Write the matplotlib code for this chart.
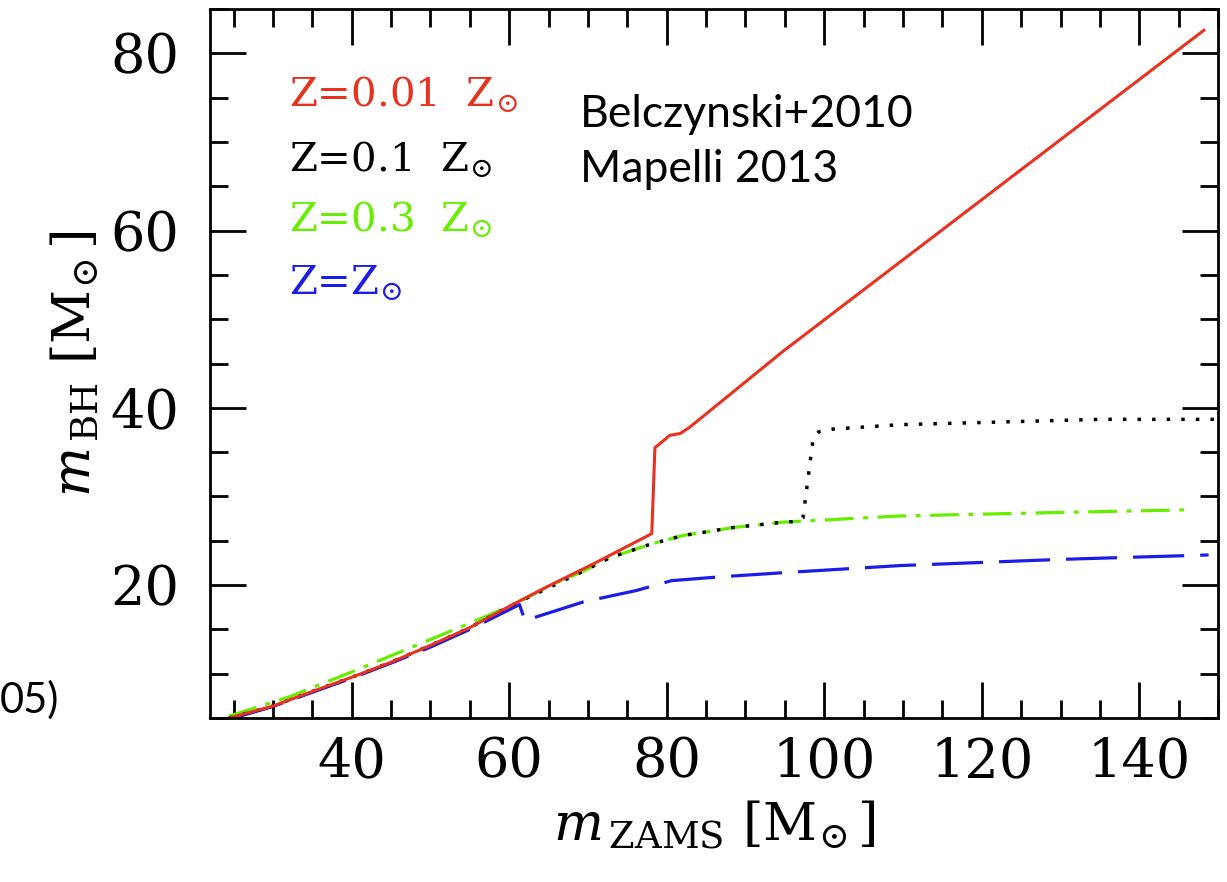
import matplotlib
matplotlib.use('Agg')
import matplotlib.pyplot as plt
from matplotlib.ticker import MultipleLocator

plt.rcParams['font.family'] = 'DejaVu Serif'
plt.rcParams['mathtext.fontset'] = 'dejavuserif'

# values
red_x = [24.4, 30, 35, 40, 45, 50, 55, 60, 65, 70.7, 78.1, 78.5, 80.4, 81.7, 82.9, 94.8, 148.2]
red_y = [5.0, 6.35, 8.0, 9.6, 11.3, 13.2, 15.2, 17.6, 19.9, 22.4, 25.8, 35.5, 36.9, 37.1, 37.8, 46.4, 82.6]

black_x = [24.4, 30, 35, 40, 45, 50, 55, 60, 65, 69, 72.8, 77.9, 82.1, 88.5, 94.8, 96.7,
           97.3, 98.6, 99.3, 101.1, 109.6, 118.1, 135, 150]
black_y = [5.0, 6.35, 8.0, 9.6, 11.3, 13.2, 15.2, 17.6, 19.7, 21.4, 23.1, 24.6, 25.6, 26.5, 27.1, 27.2,
           27.6, 36.6, 37.3, 37.6, 38.1, 38.3, 38.7, 38.7]

green_x = [24.4, 32.1, 40, 48.2, 55.8, 61.3, 65, 69, 72.8, 77.9, 82.1, 88.5, 94.8, 97, 109.6, 130, 146.7]
green_y = [5.2, 7.4, 10.2, 13.2, 16.0, 18.1, 19.9, 21.4, 23.1, 24.6, 25.6, 26.5, 27.1, 27.2, 27.8, 28.2, 28.5]

blue_x = [25, 30, 35, 40, 45, 50, 55, 61.3, 62, 69.4, 76.2, 80.6, 86.3, 94.8, 109.6, 130, 148.8]
blue_y = [5.0, 6.3, 7.9, 9.5, 11.2, 13.0, 15.0, 17.8, 16.0, 18.1, 19.4, 20.5, 20.9, 21.4, 22.2, 22.9, 23.4]

labels = [r'Z=0.01  $\mathrm{Z}_{\!\odot}$', r'Z=0.1  $\mathrm{Z}_{\!\odot}$',
          r'Z=0.3  $\mathrm{Z}_{\!\odot}$', r'Z=$\mathrm{Z}_{\!\odot}$']
label_colors = ['#e8321e', 'black', '#66ee00', '#1c1ce8']
label_y = [75.4, 68.1, 61.3, 54.1]

fig = plt.figure(figsize=(12.27, 8.82), dpi=100)
ax = fig.add_axes([0.1711, 0.1859, 0.8216, 0.8039])

ax.plot(green_x, green_y, color='#66ee00', lw=2.3, dashes=(9, 3, 1.5, 3))
ax.plot(blue_x, blue_y, color='#1c1ce8', lw=2.3, dashes=(16, 5))
ax.plot(black_x, black_y, color='black', lw=2.5, dashes=(1, 3.2))
ax.plot(red_x, red_y, color='#e8321e', lw=2.2)

ax.set_xlim(22, 150)
ax.set_ylim(5, 85)
ax.xaxis.set_major_locator(MultipleLocator(20))
ax.xaxis.set_minor_locator(MultipleLocator(5))
ax.yaxis.set_major_locator(MultipleLocator(20))
ax.yaxis.set_minor_locator(MultipleLocator(5))
ax.tick_params(which='both', direction='in', top=True, right=True, width=2.0, labelsize=39)
ax.tick_params(which='major', length=26)
ax.tick_params(which='minor', length=13)
ax.tick_params(axis='x', which='major', pad=13)
ax.tick_params(axis='y', which='major', pad=22)
for s in ax.spines.values():
    s.set_linewidth(2.0)

ax.set_xlabel(r'$m_{\,\rm ZAMS}\ [{\rm M}_{\!\odot}]$', fontsize=38, labelpad=8)
ax.set_ylabel(r'$m_{\,\rm BH}\ [{\rm M}_{\!\odot}]$', fontsize=38, labelpad=6)

for txt, c, y in zip(labels, label_colors, label_y):
    ax.text(32.1, y, txt, color=c, fontsize=29, va='center', ha='left')

ax.text(69.0, 70.0, 'Belczynski+2010\nMapelli 2013', fontsize=32, family='Lato',
        va='center', ha='left', linespacing=1.45)

fig.text(0.0, 1 - 700 / 882, '05)', fontsize=30, family='Lato', va='center', ha='left')

fig.savefig('out.png', dpi=100)
